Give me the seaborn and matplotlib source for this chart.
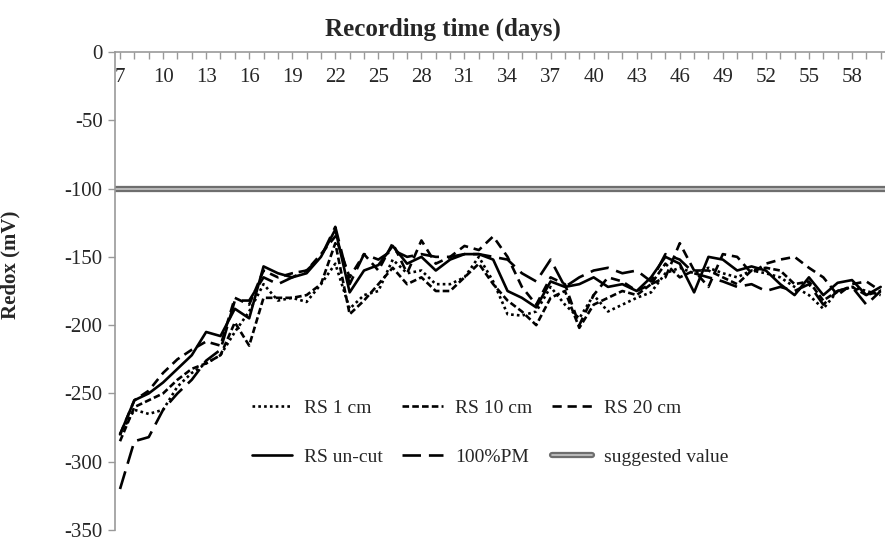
import numpy as np
import pandas as pd
import matplotlib
matplotlib.use('Agg')
import matplotlib.pyplot as plt
import matplotlib.patheffects as pe
from matplotlib.lines import Line2D
import seaborn as sns

days = np.arange(7, 61)

rs_1cm = [-280, -262, -265, -262, -245, -235, -228, -222, -205, -190,
          -170, -182, -180, -183, -170, -155, -188, -178, -175, -152,
          -162, -160, -170, -170, -165, -150, -168, -192, -193, -190,
          -172, -185, -195, -178, -190, -185, -180, -176, -162, -158,
          -162, -158, -162, -165, -160, -162, -165, -172, -178, -188,
          -175, -172, -175, -178]
rs_10cm = [-285, -260, -255, -250, -240, -232, -228, -222, -198, -215,
           -180, -180, -180, -178, -170, -140, -192, -182, -170, -158,
           -170, -165, -175, -175, -165, -155, -170, -182, -190, -200,
           -180, -175, -202, -185, -180, -175, -178, -170, -155, -165,
           -160, -160, -165, -170, -160, -158, -160, -170, -168, -182,
           -175, -172, -178, -175]
rs_20cm = [-280, -255, -248, -235, -225, -218, -212, -215, -180, -185,
           -160, -165, -162, -160, -148, -135, -165, -148, -160, -140,
           -162, -138, -155, -150, -142, -145, -135, -150, -172, -185,
           -165, -170, -200, -178, -165, -168, -175, -170, -165, -140,
           -160, -172, -148, -150, -162, -155, -152, -150, -158, -165,
           -178, -170, -168, -175]
rs_uncut = [-280, -255, -250, -242, -232, -222, -205, -208, -188, -195,
            -157, -162, -165, -162, -150, -130, -176, -160, -156, -142,
            -155, -150, -160, -152, -148, -148, -152, -175, -180, -187,
            -168, -172, -170, -165, -172, -170, -175, -165, -150, -155,
            -176, -150, -152, -160, -157, -160, -170, -178, -165, -178,
            -169, -167, -178, -172]
pm_100 = [-320, -285, -282, -262, -250, -240, -226, -218, -182, -182,
          -165, -170, -165, -160, -150, -128, -170, -148, -152, -145,
          -150, -148, -150, -150, -148, -148, -150, -152, -162, -168,
          -152, -172, -165, -160, -158, -162, -160, -168, -148, -152,
          -162, -165, -168, -172, -170, -175, -172, -175, -170, -185,
          -175, -172, -185, -175]
suggested = -100

names = ['RS 1 cm', 'RS 10 cm', 'RS 20 cm', 'RS un-cut', '100%PM']
series = [rs_1cm, rs_10cm, rs_20cm, rs_uncut, pm_100]

df = pd.concat([pd.DataFrame({'day': days, 'redox': s, 'series': n})
                for n, s in zip(names, series)], ignore_index=True)

sns.set_theme(style='white')
plt.rcParams['font.family'] = ['Liberation Serif', 'DejaVu Serif']
plt.rcParams['axes.unicode_minus'] = False

fig = plt.figure(figsize=(8.85, 5.43), dpi=100)
ax = fig.add_axes([115 / 885, 1 - 530 / 543, 1 - 115 / 885, (530 - 52) / 543])

dash_map = {'RS 1 cm': (1, 1.2), 'RS 10 cm': (2.5, 1.2), 'RS 20 cm': (3.5, 2.2),
            'RS un-cut': '', '100%PM': (7, 3)}

sns.lineplot(data=df, x='day', y='redox', style='series', style_order=names,
             dashes=dash_map, color='black', linewidth=1.9, ax=ax, legend=False)

sug_fx = [pe.Stroke(linewidth=4.5, foreground='#6e6e6e'), pe.Normal()]
ax.axhline(suggested, color='#c8c8c8', linewidth=1.2, path_effects=sug_fx)

ax.set_xlim(6.65, 60.3)
ax.set_ylim(-350, 0)
ax.set_yticks(np.arange(-350, 1, 50))
ax.yaxis.set_major_formatter(matplotlib.ticker.FuncFormatter(lambda v, p: '%d' % v))
ax.set_xticks(days)
ax.set_xticklabels([str(d) if (d - 7) % 3 == 0 else '' for d in days])
ax.xaxis.tick_top()
ax.tick_params(axis='x', direction='in', length=5, width=1, color='#999999',
               labelsize=15, pad=-25)
ax.tick_params(axis='y', direction='out', length=5, width=1, color='#999999',
               labelsize=15, pad=4, left=True)

for s in ['right', 'bottom']:
    ax.spines[s].set_visible(False)
for s in ['left', 'top']:
    ax.spines[s].set_color('#999999')
    ax.spines[s].set_linewidth(1.2)

ax.set_xlabel('')
ax.set_ylabel('Redox (mV)', fontsize=15, fontweight='bold')
ax.yaxis.set_label_coords(-0.123, 0.554)
fig.suptitle('Recording time (days)', x=0.5, y=0.968, fontsize=18, fontweight='bold')

handles = []
for n in names:
    d = dash_map[n]
    if d == '':
        handles.append(Line2D([], [], color='black', linewidth=1.9, label=n))
    else:
        handles.append(Line2D([], [], color='black', linewidth=1.9, dashes=d, label=n))
handles.append(Line2D([], [], color='#c8c8c8', linewidth=1.2, path_effects=sug_fx,
                      label='suggested value'))
order = [0, 3, 1, 4, 2, 5]
ax.legend([handles[i] for i in order], [handles[i].get_label() for i in order],
          ncol=3, frameon=False, loc='center', bbox_to_anchor=(0.487, 0.204),
          fontsize=14, handlelength=2.1, handletextpad=0.6, columnspacing=1.0,
          labelspacing=1.6)

fig.savefig('out.png', dpi=100)
